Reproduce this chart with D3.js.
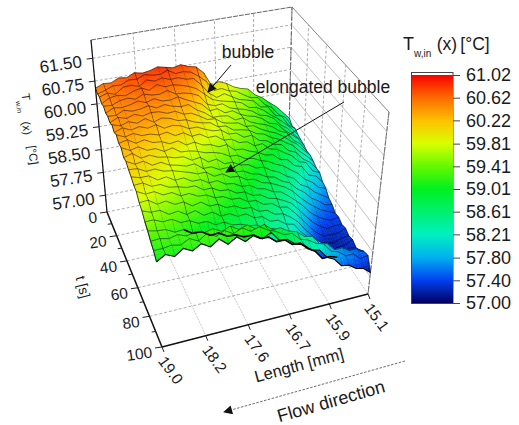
<!DOCTYPE html>
<html><head><meta charset="utf-8">
<script src="https://d3js.org/d3.v7.min.js"></script>
<style>
html,body{margin:0;padding:0;background:#fff}
text{font-family:"Liberation Sans",Arial,sans-serif;fill:#1a1a1a}
</style></head><body><svg id="c" width="519" height="425"></svg>
<script>
const zTicks=[57,57.75,58.5,59.25,60,60.75,61.5];
const tTicks=[0,20,40,60,80,100];
const tMinor=[10,30,50,70,90];
const lengthLabels=["19.0","18.2","17.6","16.7","15.9","15.1"];
const barTicks=[61.02,60.62,60.22,59.81,59.41,59.01,58.61,58.21,57.80,57.40,57.00];
const barColors=["#f60000","#ff6a00","#ffc000","#d8ff00","#66f800","#00f020","#00f070","#00f0c0","#00b0f0","#0040f0","#000060"];
const lengthColumns=d3.range(27).map(i=>19-0.15*i);
const timeRows=d3.range(26).map(i=>i*4);
const tempRows=[
[60.52,60.62,60.60,60.72,60.68,60.80,60.74,60.78,60.86,60.80,60.74,60.80,60.70,60.64,60.40,59.94,60.02,59.92,59.76,59.66,59.60,59.36,59.22,59.02,58.84,58.60,58.36],
[60.46,60.54,60.64,60.62,60.74,60.72,60.82,60.76,60.74,60.84,60.68,60.70,60.64,60.46,60.24,59.90,59.92,59.80,59.74,59.58,59.44,59.40,59.12,58.98,58.70,58.56,58.22],
[60.50,60.58,60.50,60.68,60.70,60.62,60.78,60.70,60.76,60.66,60.68,60.58,60.56,60.30,59.98,59.80,59.88,59.74,59.60,59.54,59.46,59.22,59.18,58.86,58.78,58.44,58.28],
[60.42,60.56,60.60,60.54,60.64,60.70,60.58,60.72,60.60,60.62,60.56,60.48,60.36,60.14,59.92,59.82,59.76,59.70,59.62,59.42,59.38,59.24,59.04,58.88,58.68,58.46,58.20],
[60.48,60.46,60.56,60.60,60.52,60.64,60.56,60.54,60.62,60.46,60.44,60.38,60.26,59.94,59.84,59.86,59.68,59.60,59.54,59.44,59.26,59.20,59.06,58.80,58.64,58.38,58.16],
[60.40,60.52,60.48,60.52,60.60,60.50,60.58,60.46,60.44,60.50,60.36,60.24,60.12,59.86,59.88,59.70,59.72,59.56,59.46,59.40,59.28,59.08,59.02,58.78,58.60,58.40,58.12],
[60.44,60.42,60.54,60.46,60.48,60.54,60.42,60.48,60.38,60.32,60.34,60.12,59.98,59.78,59.78,59.74,59.56,59.58,59.40,59.30,59.22,59.10,58.92,58.82,58.52,58.36,58.06],
[60.38,60.50,60.42,60.50,60.40,60.46,60.44,60.34,60.36,60.22,60.20,60.06,59.90,59.88,59.70,59.64,59.60,59.44,59.42,59.26,59.14,59.04,58.90,58.70,58.54,58.30,58.08],
[60.46,60.38,60.46,60.36,60.46,60.30,60.38,60.32,60.20,60.18,60.06,59.98,59.94,59.76,59.74,59.56,59.52,59.46,59.30,59.24,59.08,58.98,58.82,58.68,58.44,58.24,58.02],
[60.36,60.46,60.34,60.40,60.30,60.36,60.20,60.24,60.18,60.04,60.04,59.92,59.82,59.80,59.62,59.60,59.42,59.44,59.22,59.16,59.00,58.94,58.70,58.60,58.34,58.18,57.94],
[60.44,60.32,60.38,60.26,60.26,60.18,60.22,60.06,60.10,59.94,59.96,59.80,59.80,59.62,59.60,59.44,59.42,59.24,59.26,59.04,58.98,58.82,58.68,58.44,58.36,58.04,57.94],
[60.32,60.38,60.22,60.28,60.14,60.12,60.00,60.04,59.86,59.90,59.76,59.72,59.60,59.62,59.40,59.38,59.26,59.18,59.04,59.00,58.80,58.74,58.50,58.42,58.10,58.02,57.78],
[60.34,60.20,60.26,60.10,60.10,59.96,60.02,59.84,59.82,59.76,59.66,59.62,59.54,59.40,59.38,59.22,59.18,59.06,58.98,58.84,58.74,58.56,58.40,58.16,58.02,57.80,57.72],
[60.18,60.26,60.06,60.10,59.98,59.94,59.86,59.84,59.68,59.72,59.52,59.56,59.36,59.36,59.22,59.18,59.02,59.00,58.84,58.74,58.56,58.44,58.18,58.06,57.84,57.70,57.56],
[60.22,60.08,60.12,59.94,59.98,59.84,59.78,59.70,59.72,59.52,59.52,59.38,59.40,59.20,59.18,59.04,58.98,58.84,58.78,58.60,58.50,58.26,58.10,57.86,57.72,57.54,57.50],
[60.12,60.10,59.96,59.98,59.86,59.82,59.74,59.66,59.56,59.56,59.38,59.40,59.24,59.22,59.06,59.02,58.86,58.80,58.68,58.56,58.38,58.14,57.92,57.74,57.58,57.48,57.38],
[60.06,59.98,59.98,59.80,59.84,59.68,59.70,59.54,59.54,59.38,59.40,59.24,59.20,59.06,59.04,58.88,58.82,58.68,58.62,58.44,58.24,58.02,57.76,57.58,57.44,57.36,57.40],
[59.96,59.98,59.82,59.82,59.68,59.64,59.56,59.56,59.38,59.38,59.24,59.22,59.06,59.04,58.88,58.84,58.68,58.62,58.50,58.36,58.10,57.84,57.60,57.42,57.30,57.34,57.32],
[59.94,59.80,59.82,59.66,59.68,59.52,59.54,59.40,59.38,59.24,59.22,59.08,59.06,58.90,58.88,58.70,58.68,58.50,58.46,58.22,57.96,57.68,57.44,57.28,57.26,57.26,57.36],
[59.76,59.78,59.60,59.64,59.48,59.50,59.32,59.38,59.20,59.20,59.04,59.04,58.90,58.88,58.70,58.68,58.50,58.46,58.30,58.10,57.80,57.56,57.30,57.22,57.16,57.26,57.28],
[59.68,59.58,59.58,59.40,59.44,59.28,59.34,59.14,59.18,59.00,59.02,58.88,58.90,58.72,58.70,58.50,58.48,58.30,58.24,57.94,57.72,57.38,57.26,57.12,57.18,57.20,57.32],
[59.52,59.52,59.40,59.42,59.26,59.26,59.12,59.12,58.96,58.98,58.84,58.80,58.70,58.66,58.50,58.44,58.30,58.24,58.04,57.90,57.52,57.36,57.14,57.16,57.12,57.26,57.24],
[59.42,59.36,59.34,59.20,59.22,59.04,59.04,58.86,58.88,58.72,58.70,58.58,58.58,58.42,58.40,58.20,58.20,58.00,57.98,57.76,57.62,57.34,57.34,57.26,57.40,57.28,57.28],
[59.28,59.30,59.24,59.30,59.20,59.26,59.18,59.24,59.10,59.20,59.04,59.12,58.94,59.02,58.80,58.80,58.64,58.56,58.36,58.30,58.02,57.96,57.72,57.72,57.58,57.58,57.44],
[59.18,59.18,59.22,59.16,59.30,59.16,59.34,59.18,59.30,59.14,59.26,59.10,59.18,59.02,58.92,58.76,58.74,58.50,58.42,58.26,58.18,57.90,57.82,57.64,57.64,57.44,57.48],
[59.02,59.18,59.06,59.24,59.10,59.26,59.10,59.28,59.06,59.22,59.02,59.16,58.98,59.12,58.82,58.78,58.58,58.50,58.28,58.22,57.94,57.82,57.56,57.52,57.36,57.30,57.12]
];

const svg=d3.select("#c");
const defs=svg.append("defs");
defs.append("filter").attr("id","soft").append("feGaussianBlur").attr("stdDeviation",0.3);
const mk=defs.append("marker").attr("id","head").attr("viewBox","0 0 10 10").attr("refX",9).attr("refY",5)
 .attr("markerWidth",10).attr("markerHeight",9).attr("markerUnits","userSpaceOnUse").attr("orient","auto");
mk.append("path").attr("d","M0,0L10,5L0,10Z").attr("fill","#111");

function quad(p0,p1,p2,p3){
 const [x0,y0]=p0,[x1,y1]=p1,[x2,y2]=p2,[x3,y3]=p3;
 const dx1=x1-x2,dx2=x3-x2,sx=x0-x1+x2-x3,dy1=y1-y2,dy2=y3-y2,sy=y0-y1+y2-y3;
 const den=dx1*dy2-dx2*dy1,g=(sx*dy2-dx2*sy)/den,h=(dx1*sy-sx*dy1)/den;
 const a=x1-x0+g*x1,b=x3-x0+h*x3,d=y1-y0+g*y1,e=y3-y0+h*y3;
 return (u,v)=>{const w=g*u+h*v+1;return [(a*u+b*v+x0)/w,(d*u+e*v+y0)/w];};
}
const floorQ=quad([107,212],[288,175],[368,294],[162,347]);
const topQ=quad([91,40],[292,7],[389,112],[150,160]);
const uScale=d3.scaleLinear().domain([19,15.1]).range([0,1]);
const vScale=d3.scaleLinear().domain([0,100]).range([0,1]);
const wScale=d3.scaleLinear().domain([56.45,62.1]).range([0,1]);
const uTick=d3.scalePoint().domain(lengthLabels).range([0,1]);
function projUV(u,v,z){const f=floorQ(u,v),g=topQ(u,v),w=wScale(z);return [f[0]+(g[0]-f[0])*w,f[1]+(g[1]-f[1])*w];}
const zBot=wScale.domain()[0],zTop=wScale.domain()[1];
const color=d3.scaleLinear().domain(barTicks).range(barColors).clamp(true);
const line=d3.line();
const seg=(a,b,o)=>{const p=svg.append("path").attr("d",line([a,b])).attr("fill","none");
 Object.entries(o).forEach(([k,v])=>p.attr(k,v));return p;};

// walls and floor grid
const dash={stroke:"#8a8a8a","stroke-width":0.7,"stroke-dasharray":"3 2"};
const thin={stroke:"#a8a8a8","stroke-width":0.7};
tTicks.forEach(t=>{const v=vScale(t);
 seg(projUV(0,v,zBot),projUV(1,v,zBot),dash);
 seg(projUV(1,v,zBot),projUV(1,v,zTop),dash);});
lengthLabels.forEach(l=>{const u=uTick(l);
 seg(projUV(u,0,zBot),projUV(u,1,zBot),{stroke:"#b0b0b0","stroke-width":0.7,"stroke-dasharray":"2 1"});
 seg(projUV(u,0,zBot),projUV(u,0,zTop),dash);});
zTicks.forEach(z=>{
 seg(projUV(0,0,z),projUV(1,0,z),dash);
 seg(projUV(1,0,z),projUV(1,1,z),thin);});
seg(projUV(0,0,zTop),projUV(1,0,zTop),{stroke:"#555","stroke-width":0.9,"stroke-dasharray":"5 1"});
seg(projUV(1,0,zTop),projUV(1,1,zTop),{stroke:"#777","stroke-width":0.9});
seg(projUV(1,1,zTop),projUV(1,1,zBot),{stroke:"#666","stroke-width":0.9,"stroke-dasharray":"6 1"});
seg(projUV(1,0,zTop),projUV(1,0,zBot),{stroke:"#666","stroke-width":0.9,"stroke-dasharray":"6 2"});

// surface: fills of a strip first, then that strip's wires on top
const surf=svg.append("g").attr("filter","url(#soft)");
const n=3,nr=timeRows.length,nc=lengthColumns.length;
const U=lengthColumns.map(l=>uScale(l)),V=timeRows.map(t=>vScale(t));
const P=(c,r)=>projUV(U[c],V[r],tempRows[r][c]);
const rowPath=(r,c0,c1)=>line(d3.range(c0,c1+1).map(c=>P(c,r)));
for(let r=0;r<nr-1;r++){
 for(let c=nc-2;c>=0;c--){
  const a=tempRows[r][c],b=tempRows[r][c+1],d=tempRows[r+1][c],e=tempRows[r+1][c+1];
  const corner=[P(c,r),P(c+1,r),P(c+1,r+1),P(c,r+1)];
  const at=(s,q)=>[0,1].map(k=>(corner[0][k]*(1-s)+corner[1][k]*s)*(1-q)+(corner[3][k]*(1-s)+corner[2][k]*s)*q);
  for(let i=0;i<n;i++)for(let j=0;j<n;j++){
   const s=(i+.5)/n,q=(j+.5)/n;
   const val=(a*(1-s)+b*s)*(1-q)+(d*(1-s)+e*s)*q,col=color(val);
   surf.append("path").attr("d",line([at(i/n,j/n),at((i+1)/n,j/n),at((i+1)/n,(j+1)/n),at(i/n,(j+1)/n)])+"Z")
    .attr("fill",col).attr("stroke",col).attr("stroke-width",0.5);
  }
  const strong=c%4===1&&c<18;
  if(strong||c%3===2||r>=21) surf.append("path").attr("d",line([corner[0],corner[3]])).attr("fill","none")
    .attr("stroke","#000").attr("stroke-width",strong?1.1:0.55).attr("stroke-opacity",strong?1:0.75);
 }
 surf.append("path").attr("d",rowPath(r,0,nc-1)).attr("fill","none").attr("stroke","#000")
  .attr("stroke-width",0.6).attr("stroke-opacity",0.85);
}
surf.append("path").attr("d",rowPath(nr-1,0,nc-1)).attr("fill","none").attr("stroke","#000").attr("stroke-width",1.1);
surf.append("path").attr("d",line(d3.range(nr).map(r=>P(nc-1,r)))).attr("fill","none").attr("stroke","#111").attr("stroke-width",0.6);
surf.append("path").attr("d",line(d3.range(nr).map(r=>P(0,r)))).attr("fill","none").attr("stroke","#111").attr("stroke-width",0.8);
surf.append("path").attr("d",rowPath(22,4,nc-4)).attr("fill","none").attr("stroke","#000").attr("stroke-width",1.7);

// main axes
const ax={stroke:"#111","stroke-width":1.5};
seg(projUV(0,0,zBot),projUV(0,0,zTop),{stroke:"#111","stroke-width":1.2});
seg(projUV(0,0,zBot),projUV(0,1,zBot),ax);
seg(projUV(0,1,zBot),projUV(1,1,zBot),ax);

// z axis
zTicks.forEach(z=>{const p=projUV(0,0,z);
 seg(p,[p[0]-6,p[1]+0.8],{stroke:"#222","stroke-width":1});
 svg.append("text").attr("x",p[0]-11).attr("y",p[1]+3).attr("dy",".35em").attr("text-anchor","end")
  .attr("font-size",17).attr("transform",`rotate(-8 ${p[0]-11} ${p[1]+3})`).text(z.toFixed(2));});
// t axis
tTicks.forEach(t=>{const p=projUV(0,vScale(t),zBot);
 seg(p,[p[0]-7,p[1]+1],{stroke:"#222","stroke-width":1});
 svg.append("text").attr("x",p[0]-10).attr("y",p[1]+5).attr("dy",".35em").attr("text-anchor","end")
  .attr("font-size",15.5).attr("transform",`rotate(-8 ${p[0]-10} ${p[1]+5})`).text(t);});
tMinor.forEach(t=>{const p=projUV(0,vScale(t),zBot);seg(p,[p[0]-4,p[1]+.6],{stroke:"#222","stroke-width":1});});
// L axis
lengthLabels.forEach(l=>{const p=projUV(uTick(l),1,zBot);
 seg(p,[p[0]+2,p[1]+5],{stroke:"#222","stroke-width":1});
 svg.append("text").attr("x",p[0]).attr("y",p[1]+11).attr("dy",".35em").attr("font-size",15.5)
  .attr("transform",`rotate(54 ${p[0]} ${p[1]+11})`).text(l);});

const label=(s,x,y,fs,rot,anchor)=>svg.append("text").attr("x",x).attr("y",y).attr("dy",".35em").attr("text-anchor",anchor||"middle")
 .attr("font-size",fs).attr("transform",`rotate(${rot} ${x} ${y})`).text(s);
label("T",26,97,11.5,82);label("w,in",19,107,7,82);label("(x)",27,128,11.5,82);label("[°C]",33,155,11.5,82);
label("t [s]",83,287,14,76);
label("Length [mm]",299,365,16.5,-15);
label("Flow direction",331,401,18,-16);
// flow arrow
seg([405,361],[224,412],{stroke:"#444","stroke-width":0.8,"stroke-dasharray":"2.5 1.5"}).attr("marker-end","url(#head)");
// annotations
label("bubble",248,52,17.5,0);
label("elongated bubble",323,87,17.5,0);
seg([231,65],[208,92],{stroke:"#111","stroke-width":1}).attr("marker-end","url(#head)");
seg([344,102],[226,172],{stroke:"#111","stroke-width":1}).attr("marker-end","url(#head)");

// colour bar
const barY=d3.scaleLinear().domain([57,61.02]).range([303,75]);
const grad=defs.append("linearGradient").attr("id","bar").attr("x1",0).attr("x2",0).attr("y1",0).attr("y2",1);
barTicks.forEach((v,i)=>grad.append("stop").attr("offset",(barY(v)-75)/228).attr("stop-color",barColors[i]));
svg.append("rect").attr("x",411.5).attr("y",72.5).attr("width",41.5).attr("height",231).attr("fill","#fff").attr("stroke","#444").attr("stroke-width",1);
svg.append("rect").attr("x",412).attr("y",75).attr("width",41).attr("height",228).attr("fill","url(#bar)");
const barAxis=d3.axisRight(barY).tickValues(barTicks).tickFormat(d3.format(".2f")).tickSize(7).tickPadding(6);
const ga=svg.append("g").attr("transform","translate(453,0)").call(barAxis);
ga.select(".domain").remove();
ga.selectAll("line").attr("stroke","#444").attr("stroke-width",1);
ga.selectAll("text").attr("font-size",18).attr("font-family",null);
label("T",403,44,18,0,"start");label("w,in",414,53,10,0,"start");label("(x)",447,44,17.5,0);label("[°C]",475,44,17.5,0);
</script></body></html>
